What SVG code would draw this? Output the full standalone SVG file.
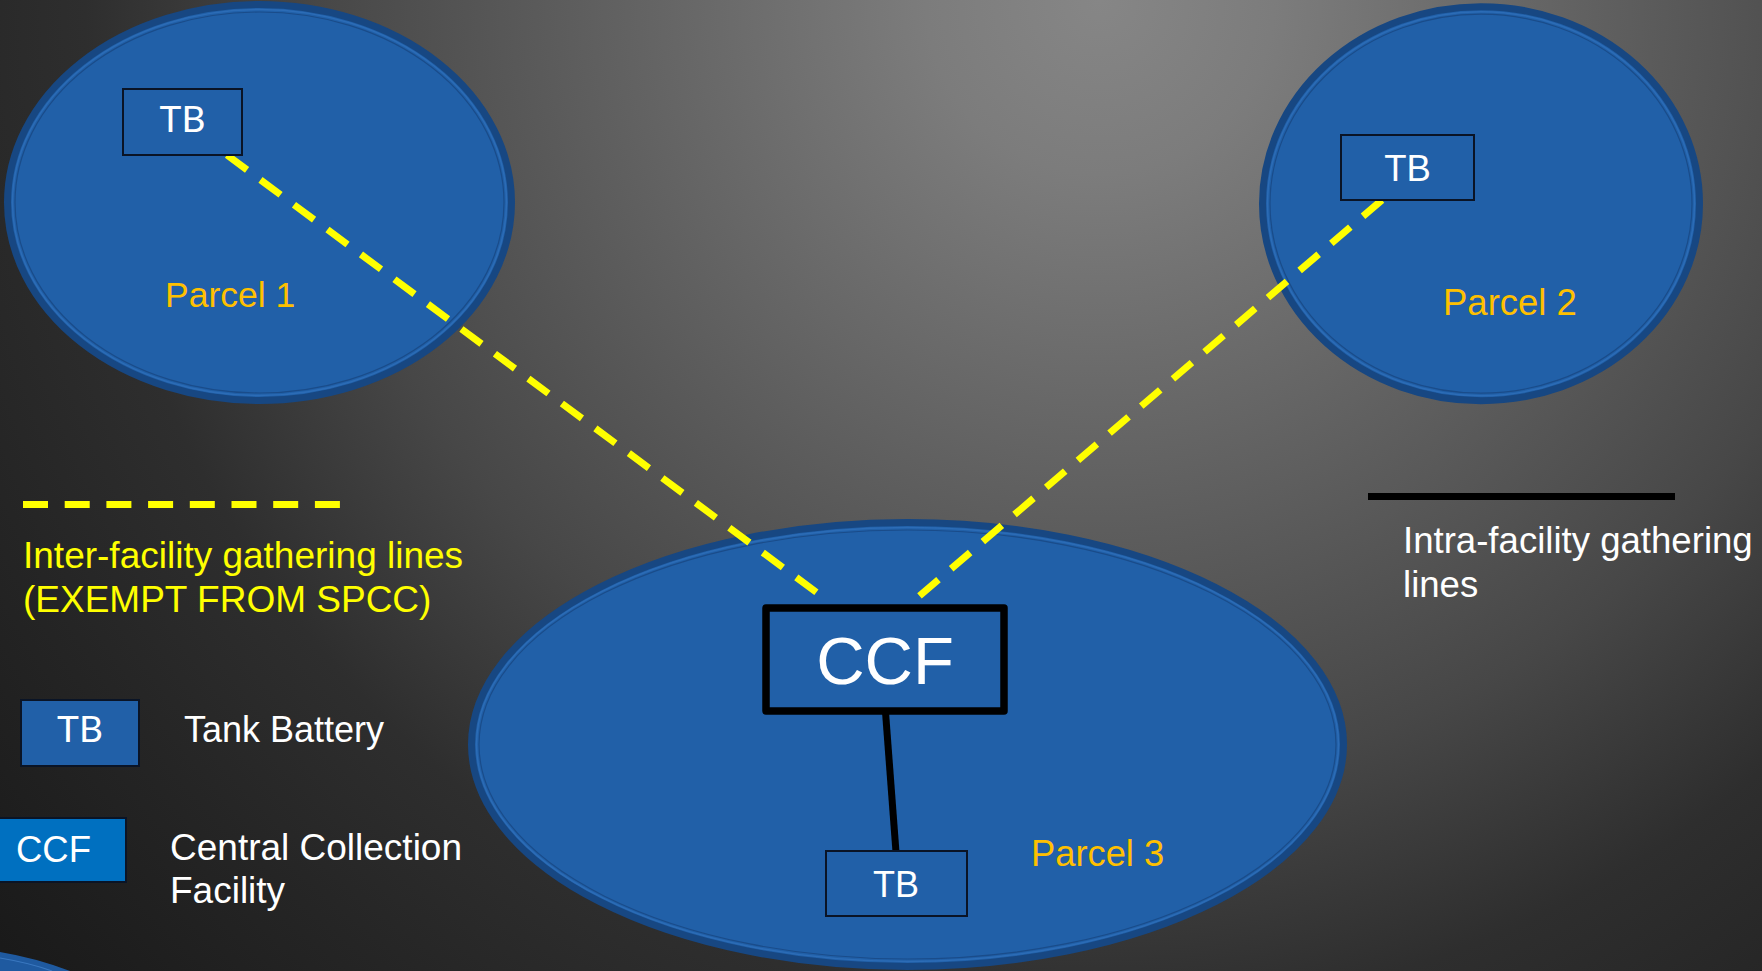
<svg xmlns="http://www.w3.org/2000/svg" width="1762" height="971" viewBox="0 0 1762 971">
<defs>
<radialGradient id="bg" gradientUnits="userSpaceOnUse" cx="1100" cy="0" r="1450">
<stop offset="0" stop-color="#868686"/>
<stop offset="0.12" stop-color="#7c7c7c"/>
<stop offset="0.54" stop-color="#474747"/>
<stop offset="0.7" stop-color="#2e2e2e"/>
<stop offset="0.83" stop-color="#252525"/>
<stop offset="1" stop-color="#1a1a1a"/>
</radialGradient>
<style>
.parcel{fill:#2160a8;stroke:#174782;stroke-width:7}
.ring1{fill:none;stroke:#2c6cb6;stroke-width:1.5}
.ring2{fill:none;stroke:#1a4c8a;stroke-width:1.2}
.tb{fill:#2160a8;stroke:#0a1426;stroke-width:2}
.sans{font-family:"Liberation Sans",Arial,sans-serif}
.lato{font-family:Lato,"Liberation Sans",sans-serif}
.white{fill:#ffffff}
.gold{fill:#ffc000}
.yellow{fill:#ffff00}
.dash{stroke:#ffff00;stroke-width:7;stroke-dasharray:25 16.7;fill:none;stroke-linecap:butt}
.solid{stroke:#000000;stroke-width:7;fill:none}
</style>
</defs>
<rect x="0" y="0" width="1762" height="971" fill="url(#bg)"/>
<path d="M0,952 Q36,958 70,971 L0,971 Z" fill="#1f5aa0"/>
<path d="M0,958 Q30,963 52,971" fill="none" stroke="#3a78c0" stroke-width="1.2"/>

<g id="parcel1">
<ellipse class="parcel" cx="259.5" cy="202.5" rx="252" ry="198"/>
<ellipse class="ring1" cx="259.5" cy="202.5" rx="247" ry="193"/>
<ellipse class="ring2" cx="259.5" cy="202.5" rx="244.5" ry="190.5"/>
<text class="sans gold" x="165" y="307" font-size="35.5">Parcel 1</text>
</g>
<g id="parcel2">
<ellipse class="parcel" cx="1481" cy="203.7" rx="218.5" ry="197"/>
<ellipse class="ring1" cx="1481" cy="203.7" rx="213.5" ry="192"/>
<ellipse class="ring2" cx="1481" cy="203.7" rx="211" ry="189.5"/>
<text class="sans gold" x="1443" y="315" font-size="36.5">Parcel 2</text>
</g>
<g id="parcel3">
<ellipse class="parcel" cx="907.5" cy="744.5" rx="436" ry="222"/>
<ellipse class="ring1" cx="907.5" cy="744.5" rx="431" ry="217"/>
<ellipse class="ring2" cx="907.5" cy="744.5" rx="428.5" ry="214.5"/>
<text class="sans gold" x="1031" y="866" font-size="36.3">Parcel 3</text>
</g>

<g id="connectors">
<line class="dash" x1="227" y1="155" x2="820" y2="595"/>
<line class="dash" x1="1382" y1="200" x2="917" y2="598"/>
<line class="solid" x1="885.5" y1="712" x2="896" y2="852"/>
</g>

<g id="tb1">
<rect class="tb" x="123" y="89" width="119" height="66"/>
<text class="lato white" x="182.5" y="132" font-size="37" text-anchor="middle">TB</text>
</g>
<g id="tb2">
<rect class="tb" x="1341" y="135" width="133" height="65"/>
<text class="sans white" x="1407.5" y="181" font-size="36.5" text-anchor="middle">TB</text>
</g>
<g id="ccf">
<rect x="766" y="608" width="238" height="103" fill="#2160a8" stroke="#000000" stroke-width="7.5" stroke-linejoin="round"/>
<text class="sans white" x="885" y="684" font-size="67" text-anchor="middle">CCF</text>
</g>
<g id="tb3">
<rect class="tb" x="826" y="851" width="141" height="65"/>
<text class="sans white" x="896" y="897" font-size="36" text-anchor="middle">TB</text>
</g>

<g id="legend-inter">
<line class="dash" x1="23" y1="504.5" x2="342" y2="504.5"/>
<text class="sans yellow" font-size="37"><tspan x="23" y="568">Inter-facility gathering lines</tspan><tspan x="23" y="612">(EXEMPT FROM SPCC)</tspan></text>
</g>
<g id="legend-intra">
<line class="solid" x1="1368" y1="496.5" x2="1675" y2="496.5"/>
<text class="sans white" font-size="36.6"><tspan x="1403" y="553">Intra-facility gathering</tspan><tspan x="1403" y="597">lines</tspan></text>
</g>
<g id="legend-tb">
<rect class="tb" x="21" y="700" width="118" height="66"/>
<text class="lato white" x="80" y="742" font-size="37" text-anchor="middle">TB</text>
<text class="sans white" x="184" y="742" font-size="36">Tank Battery</text>
</g>
<g id="legend-ccf">
<rect x="-2" y="818" width="128" height="64" fill="#0070c0" stroke="#0a1426" stroke-width="2"/>
<text class="sans white" x="16" y="862" font-size="36.5">CCF</text>
<text class="sans white" font-size="37"><tspan x="170" y="860">Central Collection</tspan><tspan x="170" y="903">Facility</tspan></text>
</g>
</svg>
